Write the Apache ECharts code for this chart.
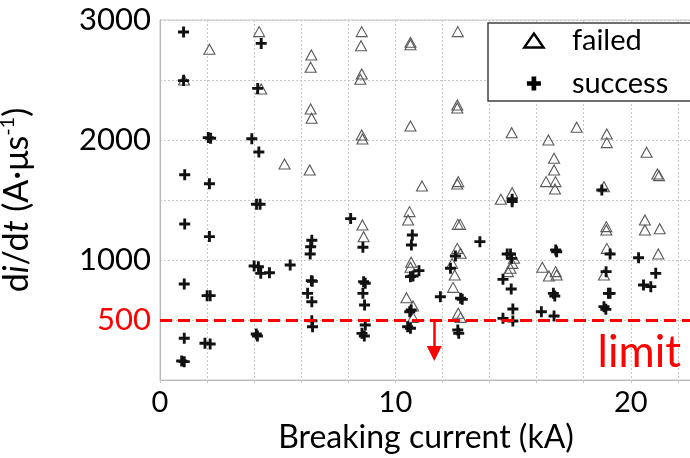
<!DOCTYPE html>
<html>
<head>
<meta charset="utf-8">
<script src="https://cdn.jsdelivr.net/npm/echarts@6/dist/echarts.min.js"></script>
<style>
  html, body { margin: 0; padding: 0; background: #fff; }
  #chart { width: 690px; height: 458px; }
</style>
</head>
<body>
<div id="chart"></div>
<script>
// Breaking current (kA) and di/dt (A/us) of the failed interruptions
const failedKA = [2.1, 4.21, 6.43, 6.4, 1.02, 4.3, 6.4, 6.44, 8.57, 8.54, 8.57, 8.51, 8.57, 8.6,
  10.64, 10.64, 10.64, 12.65, 12.63, 12.63, 14.94, 17.7, 18.98, 18.98, 16.5, 20.67, 16.74, 16.74,
  16.4, 16.8, 16.78, 21.13, 21.2, 18.86, 18.96, 18.96, 20.6, 20.6, 21.23, 18.98, 21.17, 5.29, 6.36,
  11.13, 12.67, 12.63, 14.48, 14.96, 8.6, 8.65, 10.6, 10.54, 12.65, 12.75, 12.63, 12.77, 15.04,
  14.97, 14.89, 14.78, 10.67, 10.64, 10.47, 10.75, 10.75, 12.41, 12.52, 12.45, 12.67, 12.77,
  16.24, 16.52, 16.81, 16.85, 18.86];
const failedDidt = [2756, 2903, 2708, 2606, 2500, 2425, 2258, 2181, 2903, 2786, 2550, 2506, 2042, 2008,
  2814, 2794, 2117, 2903, 2292, 2267, 2061, 2106, 2050, 1978, 2000, 1898, 1848, 1750,
  1653, 1653, 1592, 1717, 1703, 1611, 1278, 1250, 1333, 1250, 1261, 1097, 1050, 1800, 1750,
  1617, 1653, 1633, 1506, 1561, 1292, 1194, 1403, 1333, 1297, 1297, 1097, 1056, 1014,
  972, 931, 903, 981, 939, 686, 617, 522, 972, 875, 772, 556, 522,
  939, 867, 903, 875, 875];

// Breaking current (kA) and di/dt (A/us) of the successful interruptions
const successKA = [1.0, 4.3, 1.0, 4.15, 2.05, 2.15, 3.9, 4.2, 1.05, 2.1, 4.1, 4.25, 1.05, 2.1,
  6.45, 6.4, 6.38, 1.03, 2.0, 2.13, 4.0, 4.18, 4.28, 4.65, 5.53, 6.43, 6.47, 6.27, 6.45,
  1.03, 1.91, 2.13, 0.92, 1.03, 4.09, 4.14, 6.45, 6.48, 8.1, 8.62, 10.72, 10.68, 13.59, 12.55,
  14.75, 14.89, 14.94, 14.57, 14.92, 14.99, 14.57, 14.99, 11.0, 10.64, 10.75, 10.67, 10.61,
  10.52, 10.64, 11.91, 12.34, 12.77, 12.84, 12.65, 12.69, 8.65, 8.72, 8.62, 8.69, 8.72, 8.58,
  8.68, 14.96, 14.96, 16.81, 16.85, 16.71, 16.77, 16.2, 16.74, 18.77, 19.12, 18.95, 19.05,
  19.12, 18.86, 18.94, 20.33, 21.06, 20.54, 20.85];
const successDidt = [2900, 2805, 2495, 2430, 2020, 2015, 2010, 1900, 1710, 1635, 1465, 1465, 1300, 1195,
  1165, 1110, 1050, 800, 703, 703, 950, 944, 889, 894, 958, 828, 822, 722, 652,
  348, 306, 300, 158, 153, 383, 367, 494, 444, 1345, 1106, 1208, 1125, 1153, 1033,
  1050, 1050, 1014, 839, 758, 592, 514, 492, 911, 861, 867, 583, 569,
  444, 431, 694, 931, 681, 672, 417, 389, 819, 806, 722, 625, 458, 389,
  367, 1506, 1486, 1083, 1069, 722, 700, 569, 533, 1583, 1050, 903, 722,
  722, 611, 589, 1019, 889, 792, 778];

// Tick labels and the di/dt limit annotation
const xTickLabels = [0, 10, 20];
const yTickLabels = [500, 1000, 2000, 3000];
const limitValue = 500;
const arrowKA = 11.65;
const arrowTipDidt = 220;

const FONT = 'Lato, "Open Sans", "Liberation Sans", sans-serif';
const PLUS = 'path://M3.7,0H6.3V3.7H10V6.3H6.3V10H3.7V6.3H0V3.7H3.7Z';
const PLUS_BOLD = 'path://M5,0H10V5H15V10H10V15H5V10H0V5H5Z';
const TRI = 'path://M9,0L18,13L0,13Z';

const zip = (xs, ys) => xs.map((x, i) => [x, ys[i]]);

const chart = echarts.init(document.getElementById('chart'), null, { renderer: 'canvas' });

chart.setOption({
  backgroundColor: '#fff',
  animation: false,
  grid: {
    left: 160, top: 20, right: -2, bottom: 78,
    containLabel: false,
    outerBoundsMode: 'none',
    show: true, borderColor: '#c8c8c8', borderWidth: 1
  },
  // frame behind the legend entries, running off the right edge
  graphic: [{
    type: 'rect',
    z: 3,
    shape: { x: 488, y: 23, width: 230, height: 78 },
    style: { fill: '#fff', stroke: '#404040', lineWidth: 1.5 }
  }],
  legend: {
    orient: 'vertical',
    left: 509, top: 23,
    z: 5,
    padding: [3, 0, 5, 14],
    itemWidth: 66, itemHeight: 14, itemGap: 14,
    textStyle: { fontFamily: FONT, fontSize: 29, color: '#000', lineHeight: 28 },
    data: [
      { name: 'failed', icon: TRI,
        itemStyle: { color: 'rgba(0,0,0,0)', borderColor: '#000', borderWidth: 2.4 } },
      { name: 'success', icon: PLUS_BOLD,
        itemStyle: { color: '#000', borderWidth: 0 } }
    ]
  },
  xAxis: {
    type: 'value',
    min: 0, max: 22.6, interval: 2,
    name: 'Breaking current (kA)',
    nameLocation: 'middle', nameGap: 39,
    nameTextStyle: { fontFamily: FONT, fontSize: 32, color: '#000' },
    axisLine: { show: true, lineStyle: { color: '#b8b8b8', width: 1 } },
    axisTick: { show: true, length: 3, lineStyle: { color: '#c8c8c8' } },
    axisLabel: {
      margin: 8, fontFamily: FONT, fontSize: 29, color: '#000',
      formatter: v => (xTickLabels.includes(v) ? String(v) : '')
    },
    splitLine: { show: true, lineStyle: { color: '#c8c8c8', type: [2, 2], width: 1 } }
  },
  yAxis: {
    type: 'value',
    min: 0, max: 3000, interval: 500,
    name: '{n|d}{i|i}{n|/d}{i|t}{n| (A·μs}{s|-1}{n|)}',
    nameLocation: 'middle', nameRotate: 90, nameGap: 124,
    nameTextStyle: {
      fontFamily: FONT, fontSize: 34, color: '#000',
      rich: {
        n: { fontFamily: FONT, fontSize: 34, color: '#000', lineHeight: 38 },
        i: { fontFamily: FONT, fontSize: 34, color: '#000', fontStyle: 'italic', lineHeight: 38 },
        s: { fontFamily: FONT, fontSize: 20, color: '#000', lineHeight: 38, verticalAlign: 'top', padding: [0, 0, 16, 0] }
      }
    },
    axisLine: { show: true, lineStyle: { color: '#b8b8b8', width: 1 } },
    axisTick: { show: false },
    axisLabel: {
      margin: 9, fontFamily: FONT, fontSize: 31,
      color: v => (Number(v) === limitValue ? '#ff0000' : '#000'),
      formatter: v => (yTickLabels.includes(v) ? String(v) : '')
    },
    splitLine: { show: true, lineStyle: { color: '#c8c8c8', type: [2, 2], width: 1 } }
  },
  series: [
    {
      name: 'failed',
      type: 'scatter',
      symbol: 'triangle',
      symbolSize: [11, 10],
      itemStyle: { color: 'rgba(0,0,0,0)', borderColor: '#5a5a5a', borderWidth: 1.1, opacity: 1 },
      data: zip(failedKA, failedDidt)
    },
    {
      name: 'success',
      type: 'scatter',
      symbol: PLUS,
      symbolSize: 11,
      itemStyle: { color: '#111', opacity: 1 },
      data: zip(successKA, successDidt),
      markLine: {
        silent: true,
        symbol: 'none',
        animation: false,
        data: [
          {
            yAxis: limitValue,
            lineStyle: { color: '#ff0000', width: 3, type: [12, 6] },
            label: {
              show: true, position: 'insideEndBottom', formatter: 'limit',
              fontFamily: FONT, fontSize: 44, color: '#ff0000', distance: 11
            }
          },
          [
            { coord: [arrowKA, limitValue], symbol: 'none',
              lineStyle: { color: '#ff0000', width: 2.5, type: 'solid' }, label: { show: false } },
            { coord: [arrowKA, arrowTipDidt], symbol: 'triangle', symbolSize: [15, 15] }
          ]
        ]
      }
    }
  ]
});
</script>
</body>
</html>
